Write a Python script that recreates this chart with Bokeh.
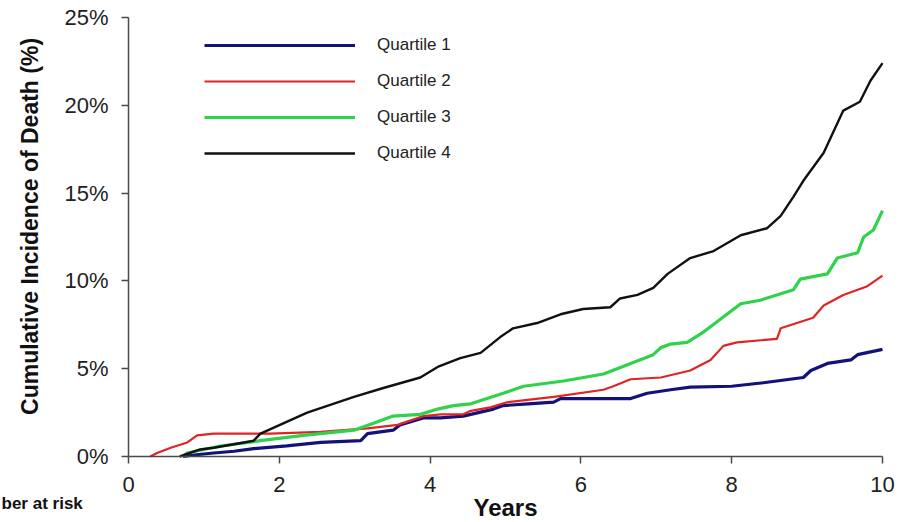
import math
from bokeh.plotting import figure
from bokeh.models import Label, Legend, LegendItem, FixedTicker, Range1d
from bokeh.embed import file_html
from bokeh.resources import INLINE

# ---- data (years, cumulative incidence %) ----
q1_years = [0.72, 0.9, 1.13, 1.4, 1.66, 2.1, 2.55, 3.08, 3.17, 3.51, 3.6, 3.91, 4.14, 4.44, 4.84, 4.97,
            5.3, 5.64, 5.73, 6.2, 6.66, 6.88, 7.19, 7.45, 8.0, 8.42, 8.95, 9.05, 9.27, 9.58, 9.67, 10.0]
q1_pct = [0, 0.1, 0.2, 0.3, 0.45, 0.6, 0.8, 0.9, 1.3, 1.5, 1.8, 2.2, 2.2, 2.3, 2.7, 2.9,
          3.0, 3.1, 3.3, 3.3, 3.3, 3.6, 3.8, 3.95, 4.0, 4.2, 4.5, 4.9, 5.3, 5.5, 5.8, 6.1]

q2_years = [0.29, 0.38, 0.56, 0.78, 0.91, 1.13, 1.88, 2.55, 3.17, 3.57, 3.91, 4.14, 4.44, 4.54, 4.8, 5.03,
            5.64, 6.3, 6.43, 6.66, 7.06, 7.45, 7.72, 7.89, 8.07, 8.6, 8.65, 9.08, 9.22, 9.48, 9.8, 10.0]
q2_pct = [0, 0.2, 0.5, 0.8, 1.2, 1.3, 1.3, 1.4, 1.6, 1.8, 2.3, 2.4, 2.4, 2.6, 2.8, 3.1,
          3.4, 3.8, 4.0, 4.4, 4.5, 4.9, 5.5, 6.3, 6.5, 6.7, 7.3, 7.9, 8.6, 9.2, 9.7, 10.3]

q3_years = [0.72, 0.78, 1.22, 1.75, 2.32, 2.99, 3.25, 3.51, 3.87, 4.1, 4.31, 4.54, 4.97, 5.24, 5.77, 6.3,
            6.66, 6.96, 7.06, 7.19, 7.41, 7.63, 8.12, 8.38, 8.82, 8.91, 9.27, 9.4, 9.67, 9.75, 9.88, 10.0]
q3_pct = [0, 0.2, 0.6, 0.9, 1.2, 1.5, 1.9, 2.3, 2.4, 2.7, 2.9, 3.0, 3.6, 4.0, 4.3, 4.7,
          5.3, 5.8, 6.2, 6.4, 6.5, 7.1, 8.7, 8.9, 9.5, 10.1, 10.4, 11.3, 11.6, 12.5, 12.9, 14.0]

q4_years = [0.68, 0.95, 1.13, 1.4, 1.66, 1.75, 2.06, 2.37, 2.99, 3.38, 3.87, 4.1, 4.4, 4.67, 4.93, 5.1,
            5.42, 5.73, 6.03, 6.39, 6.52, 6.75, 6.96, 7.15, 7.45, 7.76, 8.12, 8.47, 8.65, 8.82, 8.95,
            9.22, 9.48, 9.7, 9.84, 10.0]
q4_pct = [0, 0.4, 0.5, 0.7, 0.9, 1.3, 1.9, 2.5, 3.4, 3.9, 4.5, 5.1, 5.6, 5.9, 6.8, 7.3,
          7.6, 8.1, 8.4, 8.5, 9.0, 9.2, 9.6, 10.4, 11.3, 11.7, 12.6, 13.0, 13.7, 14.8, 15.7,
          17.3, 19.7, 20.2, 21.4, 22.4]

series_names = ["Quartile 1", "Quartile 2", "Quartile 3", "Quartile 4"]
x_ticks = [0, 2, 4, 6, 8, 10]
x_tick_labels = ["0", "2", "4", "6", "8", "10"]
y_ticks = [0, 5, 10, 15, 20, 25]
y_tick_labels = ["0%", "5%", "10%", "15%", "20%", "25%"]
x_title = "Years"
y_title = "Cumulative Incidence of Death (%)"
risk_title = "ber at risk"

FONT = "Liberation Sans"
W, H = 900, 522
# frame spans the whole canvas; axes are pinned at 0 with fixed_location
PX_PER_YEAR = 75.4
PX_PER_PCT = 17.56
x0_px, y0_px = 128, 456
x_range = Range1d(-x0_px / PX_PER_YEAR, (W - x0_px) / PX_PER_YEAR)
y_range = Range1d(-(H - y0_px) / PX_PER_PCT, y0_px / PX_PER_PCT)

p = figure(width=W, height=H, output_backend="svg", toolbar_location=None,
           x_range=x_range, y_range=y_range,
           min_border=0, min_border_left=0, min_border_right=0,
           min_border_top=0, min_border_bottom=0)
p.outline_line_color = None
p.xgrid.visible = False
p.ygrid.visible = False
p.background_fill_color = "white"
p.border_fill_color = "white"

axis_col = "#4a4a4a"
for ax in (p.xaxis[0], p.yaxis[0]):
    ax.fixed_location = 0
    ax.axis_line_color = axis_col
    ax.axis_line_width = 1.5
    ax.major_tick_line_color = axis_col
    ax.major_tick_line_width = 1.5
    ax.major_tick_in = 0
    ax.major_tick_out = 7
    ax.minor_tick_line_color = None
    ax.major_label_text_font = FONT
    ax.major_label_text_font_size = "22px"
    ax.major_label_text_color = "#222222"

p.xaxis.bounds = (0, 10)
p.xaxis.ticker = FixedTicker(ticks=x_ticks)
p.xaxis.major_label_overrides = dict(zip(x_ticks, x_tick_labels))
p.xaxis.major_label_standoff = 13

p.yaxis.bounds = (0, 25)
p.yaxis.ticker = FixedTicker(ticks=y_ticks)
p.yaxis.major_label_overrides = dict(zip(y_ticks, y_tick_labels))
p.yaxis.major_label_standoff = 13

colors = ["#12127a", "#e02424", "#2fd24a", "#111111"]
widths = [3.2, 2.2, 3.2, 2.4]
data = [(q1_years, q1_pct), (q2_years, q2_pct), (q3_years, q3_pct), (q4_years, q4_pct)]
renderers = []
for (xs, ys), c, w in zip(data, colors, widths):
    r = p.line(xs, ys, line_color=c, line_width=w)
    renderers.append(r)

legend = Legend(items=[LegendItem(label=n, renderers=[r]) for n, r in zip(series_names, renderers)],
                location=(204, 359), padding=0, margin=0, spacing=16,
                glyph_width=151, glyph_height=20, label_height=20, label_standoff=22,
                label_text_font=FONT, label_text_font_size="17px", label_text_color="#222222",
                border_line_color=None, background_fill_alpha=0)
p.add_layout(legend)

p.add_layout(Label(x=5, y=-2.90, text=x_title, text_align="center", text_baseline="alphabetic",
                   text_font=FONT, text_font_style="bold", text_font_size="24px", text_color="#111111"))
p.add_layout(Label(x=-1.30, y=13.1, text=y_title, angle=math.pi / 2,
                   text_align="center", text_baseline="middle",
                   text_font=FONT, text_font_style="bold", text_font_size="23px", text_color="#111111"))
p.add_layout(Label(x=-1.684, y=-2.68, text=risk_title, text_align="left", text_baseline="alphabetic",
                   text_font=FONT, text_font_style="bold", text_font_size="17px", text_color="#111111"))

open("out.html", "w").write(file_html(p, INLINE))
